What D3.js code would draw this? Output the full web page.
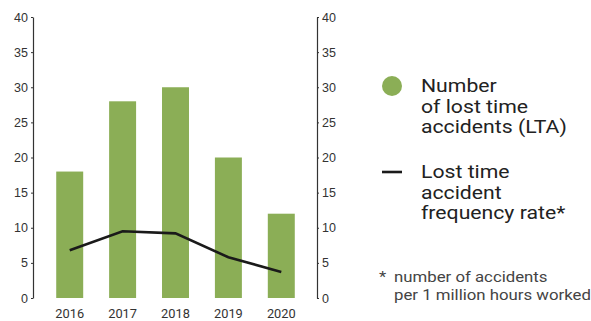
<!DOCTYPE html>
<html>
<head>
<meta charset="utf-8">
<script src="https://cdn.jsdelivr.net/npm/d3@7"></script>
<style>
  body { margin: 0; background: #fff; }
  svg { font-family: Roboto, "Noto Sans", sans-serif; }
  .axis path, .axis line { stroke: #333; }
  .axis text { fill: #333; font-size: 12.5px; }
</style>
</head>
<body>
<div class="container"></div>
<script>
// data
var years = ["2016", "2017", "2018", "2019", "2020"];
var ltaCount = [18, 28, 30, 20, 12];          // bars, left axis
var ltaRate = [6.8, 9.5, 9.2, 5.8, 3.7];       // line, right axis
var tickValues = [0, 5, 10, 15, 20, 25, 30, 35, 40];

var legendBars = ["Number", "of lost time", "accidents (LTA)"];
var legendLine = ["Lost time", "accident", "frequency rate*"];
var footnote = ["number of accidents", "per 1 million hours worked"];

var width = 591, height = 321;
var green = "#8bae56";

var svg = d3.select(".container")
    .append("svg")
    .attr("width", width)
    .attr("height", height);

var x = d3.scaleBand()
    .domain(years)
    .range([43, 308])
    .paddingInner(0.49)
    .paddingOuter(0.25);

var yLeft = d3.scaleLinear().domain([0, 40]).range([298, 17]);
var yRight = d3.scaleLinear().domain([0, 40]).range([298, 17]);

// left axis
svg.append("g")
    .attr("class", "axis")
    .attr("transform", "translate(33,0)")
    .call(d3.axisLeft(yLeft).tickValues(tickValues).tickSize(2).tickSizeOuter(0).tickPadding(3))
    .call(g => g.select(".domain").attr("stroke-width", 1.2));

// right axis
svg.append("g")
    .attr("class", "axis")
    .attr("transform", "translate(317,0)")
    .call(d3.axisRight(yRight).tickValues(tickValues).tickSize(2).tickSizeOuter(0).tickPadding(3))
    .call(g => g.select(".domain").attr("stroke-width", 1.2));

// bars
svg.selectAll(".bar")
    .data(ltaCount)
    .enter()
    .append("rect")
    .attr("class", "bar")
    .attr("fill", green)
    .attr("x", (d, i) => x(years[i]))
    .attr("width", x.bandwidth())
    .attr("y", d => yLeft(d))
    .attr("height", d => yLeft(0) - yLeft(d));

// year labels
svg.selectAll(".year")
    .data(years)
    .enter()
    .append("text")
    .attr("class", "year")
    .attr("x", d => x(d) + x.bandwidth() / 2)
    .attr("y", 318)
    .attr("text-anchor", "middle")
    .attr("fill", "#333")
    .style("font-size", "12.8px")
    .text(d => d);

// rate line
var line = d3.line()
    .x((d, i) => x(years[i]) + x.bandwidth() / 2)
    .y(d => yRight(d));

svg.append("path")
    .datum(ltaRate)
    .attr("fill", "none")
    .attr("stroke", "#1a1a1a")
    .attr("stroke-width", 2.6)
    .attr("d", line);

// text block, a bit wider than the font draws it (like the original)
function textBlock(lines, tx, ty, size, lineH, color, stretch) {
    var t = svg.append("g")
        .attr("transform", "translate(" + tx + "," + ty + ") scale(" + stretch + ",1)")
        .append("text")
        .attr("fill", color)
        .style("font-size", size + "px");
    t.selectAll("tspan")
        .data(lines)
        .enter()
        .append("tspan")
        .attr("x", 0)
        .attr("dy", (d, i) => i ? lineH : 0)
        .text(d => d);
}

// legend
svg.append("circle")
    .attr("cx", 392)
    .attr("cy", 86)
    .attr("r", 10)
    .attr("fill", green);

textBlock(legendBars, 421, 92, 18.6, 20.7, "#222", 1.14);

svg.append("line")
    .attr("x1", 382)
    .attr("x2", 402)
    .attr("y1", 172)
    .attr("y2", 172)
    .attr("stroke", "#1a1a1a")
    .attr("stroke-width", 2.6);

textBlock(legendLine, 421, 178, 18.6, 20.7, "#222", 1.14);

// footnote
textBlock(["*"], 379, 282, 15, 0, "#444", 1.12);
textBlock(footnote, 394, 282, 15, 18, "#444", 1.12);
</script>
</body>
</html>
